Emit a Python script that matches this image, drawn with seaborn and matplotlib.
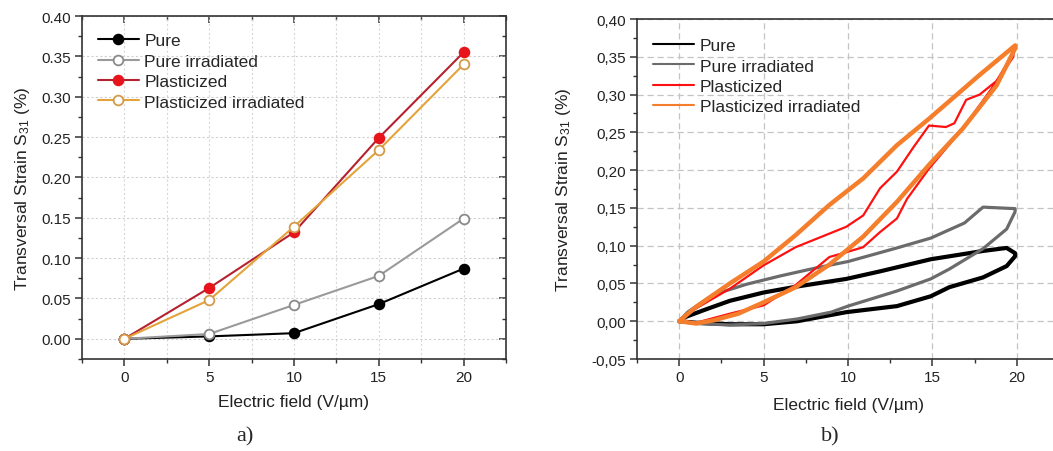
import matplotlib
matplotlib.use("Agg")
import matplotlib.pyplot as plt
from matplotlib.ticker import MultipleLocator, FixedLocator, FixedFormatter
import seaborn as sns
import pandas as pd

# ---------------- Data ----------------
# Panel a) strain vs electric field
field_a = [0, 5, 10, 15, 20]
pure = [0.0, 0.003, 0.007, 0.043, 0.087]
pure_irr = [0.0, 0.006, 0.042, 0.078, 0.149]
plast = [0.0, 0.063, 0.132, 0.249, 0.355]
plast_irr = [0.0, 0.048, 0.139, 0.234, 0.340]
series_names = ["Pure", "Pure irradiated", "Plasticized", "Plasticized irradiated"]

# Panel b) hysteresis loops (lower branch: rising field, upper branch: falling field)
pure_lo_E = [0, 1, 3, 5, 7, 9.9, 12.9, 14.9, 16, 18, 19.4, 19.9]
pure_lo_S = [0, -0.002, -0.004, -0.004, 0.0, 0.012, 0.020, 0.033, 0.045, 0.058, 0.073, 0.086]
pure_up_E = [19.9, 19.4, 18, 14.9, 11.9, 9.9, 7, 5, 3, 1.5, 0.3, 0]
pure_up_S = [0.090, 0.097, 0.093, 0.082, 0.066, 0.056, 0.046, 0.038, 0.027, 0.015, 0.005, 0]

pirr_lo_E = [0, 1, 3, 5, 7, 9, 10, 12.9, 14.9, 16, 18, 19.4, 19.9]
pirr_lo_S = [0, -0.003, -0.005, -0.003, 0.003, 0.012, 0.020, 0.040, 0.056, 0.069, 0.096, 0.122, 0.145]
pirr_up_E = [19.9, 18, 16.9, 14.9, 12.9, 10, 8, 6, 4, 2, 0.5, 0]
pirr_up_S = [0.149, 0.151, 0.130, 0.110, 0.097, 0.079, 0.070, 0.060, 0.049, 0.035, 0.012, 0]

plast_lo_E = [0, 1, 2, 3, 5, 6.9, 8.9, 10, 10.9, 11.9, 12.9, 13.5, 14.8, 16.8, 18.8, 19.8]
plast_lo_S = [0, -0.002, 0.004, 0.010, 0.021, 0.048, 0.085, 0.092, 0.098, 0.118, 0.136, 0.162, 0.202, 0.255, 0.317, 0.350]
plast_up_E = [19.8, 18.8, 17.8, 17, 16.3, 15.8, 14.8, 13.9, 12.9, 11.9, 10.9, 9.9, 8.9, 6.9, 5, 3, 1, 0]
plast_up_S = [0.355, 0.318, 0.300, 0.293, 0.262, 0.257, 0.259, 0.231, 0.198, 0.176, 0.140, 0.125, 0.116, 0.098, 0.074, 0.043, 0.017, 0]

pli_lo_E = [0, 1, 2, 3.5, 5, 6.9, 8.9, 10.9, 12.9, 14.8, 16.8, 18.8, 19.9]
pli_lo_S = [0, -0.003, 0.001, 0.010, 0.025, 0.045, 0.075, 0.112, 0.158, 0.207, 0.255, 0.312, 0.361]
pli_up_E = [19.9, 17.8, 14.8, 12.9, 10.9, 8.9, 6.9, 5, 3, 1, 0]
pli_up_S = [0.365, 0.326, 0.268, 0.233, 0.189, 0.154, 0.114, 0.079, 0.050, 0.019, 0]

yticks_b = [-0.05, 0.0, 0.05, 0.10, 0.15, 0.20, 0.25, 0.30, 0.35, 0.40]
yticklabels_b = ["-0,05", "0,00", "0,05", "0,10", "0,15", "0,20", "0,25", "0,30", "0,35", "0,40"]

# ---------------- Style ----------------
sns.set_style("ticks")
plt.rcParams["font.family"] = ["Liberation Sans", "DejaVu Sans"]
plt.rcParams["mathtext.default"] = "regular"

fig = plt.figure(figsize=(10.53, 4.52), dpi=100)
axA = fig.add_axes([82/1053, 1-360/452, (506-82)/1053, (360-17)/452])
axB = fig.add_axes([637/1053, 1-360/452, (1059-637)/1053, (360-20)/452])

spine_col = "#333333"
tick_fs = 11
label_fs = 12.5
leg_fs = 12.5

# ---------------- Panel a ----------------
styles_a = [
    dict(color="black", mfc="black", mec="black"),
    dict(color="#9a9a9a", mfc="white", mec="#8a8a8a"),
    dict(color="#b5212e", mfc="#e8141c", mec="#e8141c"),
    dict(color="#e3a33a", mfc="white", mec="#d39a4a"),
]
for name, vals, st in zip(series_names, [pure, pure_irr, plast, plast_irr], styles_a):
    sns.lineplot(x=field_a, y=vals, ax=axA, color=st["color"], lw=1.5, marker="o",
                 markersize=7, markerfacecolor=st["mfc"], markeredgecolor=st["mec"],
                 markeredgewidth=1.3, label=name)

axA.set_xlim(-2.5, 22.5)
axA.set_ylim(-0.025, 0.40)
axA.xaxis.set_major_locator(MultipleLocator(5))
axA.xaxis.set_minor_locator(MultipleLocator(2.5))
axA.yaxis.set_major_locator(MultipleLocator(0.05))
axA.yaxis.set_minor_locator(MultipleLocator(0.025))
axA.yaxis.set_major_formatter(matplotlib.ticker.FormatStrFormatter("%.2f"))
axA.grid(True, which="major", axis="y", color="#d0d0d0", ls=(0, (2, 2)), lw=0.8)
axA.grid(True, which="both", axis="x", color="#d8d8d8", ls=(0, (2, 2)), lw=0.8)
for s in axA.spines.values():
    s.set_visible(True)
    s.set_color(spine_col)
    s.set_linewidth(1.2)
axA.tick_params(which="major", direction="out", length=5, width=1.1, color=spine_col,
                labelsize=tick_fs, labelcolor="#222222", pad=3)
axA.tick_params(which="minor", direction="out", length=3, width=1.0, color=spine_col)
secx = axA.secondary_xaxis("top")
secx.xaxis.set_major_locator(MultipleLocator(5))
secx.xaxis.set_minor_locator(MultipleLocator(2.5))
secx.tick_params(which="major", direction="in", length=5, width=1.1, color=spine_col, labeltop=False)
secx.tick_params(which="minor", direction="in", length=3, width=1.0, color=spine_col)
secx.spines["top"].set_visible(False)
secy = axA.secondary_yaxis("right")
secy.yaxis.set_major_locator(MultipleLocator(0.05))
secy.yaxis.set_minor_locator(MultipleLocator(0.025))
secy.tick_params(which="major", direction="in", length=5, width=1.1, color=spine_col, labelright=False)
secy.tick_params(which="minor", direction="in", length=3, width=1.0, color=spine_col)
secy.spines["right"].set_visible(False)

axA.set_xlabel("Electric field (V/µm)", fontsize=label_fs, color="#222222", labelpad=7)
axA.set_ylabel("Transversal Strain S$_{31}$ (%)", fontsize=label_fs, color="#222222", labelpad=7)
legA = axA.legend(loc="upper left", bbox_to_anchor=(0.0, 0.995), frameon=False, fontsize=leg_fs,
                  handlelength=2.4, handletextpad=0.3, labelspacing=0.3, borderaxespad=0.5)

# ---------------- Panel b ----------------
colors_b = ["black", "#6b6b6b", "#ff1010", "#f47e2c"]
lws_b = [3.0, 2.3, 1.6, 3.2]
loops = [
    (pure_lo_E + pure_up_E, pure_lo_S + pure_up_S),
    (pirr_lo_E + pirr_up_E, pirr_lo_S + pirr_up_S),
    (plast_lo_E + plast_up_E, plast_lo_S + plast_up_S),
    (pli_lo_E + pli_up_E, pli_lo_S + pli_up_S),
]
for name, (E, S), c, lw in zip(series_names, loops, colors_b, lws_b):
    df = pd.DataFrame({"E": E, "S": S})
    sns.lineplot(data=df, x="E", y="S", ax=axB, sort=False, estimator=None,
                 color=c, lw=lw, label=name)

axB.set_xlim(-2.5, 22.5)
axB.set_ylim(-0.05, 0.40)
axB.xaxis.set_major_locator(MultipleLocator(5))
axB.xaxis.set_minor_locator(MultipleLocator(2.5))
axB.yaxis.set_major_locator(FixedLocator(yticks_b))
axB.yaxis.set_major_formatter(FixedFormatter(yticklabels_b))
axB.yaxis.set_minor_locator(MultipleLocator(0.025))
axB.grid(True, which="major", color="#c4c4c4", ls=(0, (5, 3)), lw=0.9)
axB.set_axisbelow(True)
for side in ["left", "bottom", "top"]:
    axB.spines[side].set_visible(True)
    axB.spines[side].set_color(spine_col)
    axB.spines[side].set_linewidth(1.2)
axB.spines["right"].set_visible(False)
axB.tick_params(which="major", direction="out", length=5, width=1.1, color=spine_col,
                labelsize=tick_fs, labelcolor="#222222", pad=3)
axB.tick_params(which="minor", direction="out", length=3, width=1.0, color=spine_col)
axB.set_xlabel("Electric field (V/µm)", fontsize=label_fs, color="#222222", labelpad=9)
axB.set_ylabel("Transversal Strain S$_{31}$ (%)", fontsize=label_fs, color="#222222", labelpad=13)
legB = axB.legend(loc="upper left", bbox_to_anchor=(0.0, 0.99), frameon=False, fontsize=leg_fs,
                  handlelength=2.4, handletextpad=0.3, labelspacing=0.3, borderaxespad=0.5)
for ln in legB.get_lines():
    ln.set_linewidth(1.5)

# ---------------- panel tags ----------------
fig.text(245/1053, 1-437/452, "a)", ha="center", va="center", fontsize=16,
         family=["Liberation Serif", "DejaVu Serif"])
fig.text(830/1053, 1-437/452, "b)", ha="center", va="center", fontsize=16,
         family=["Liberation Serif", "DejaVu Serif"])

fig.savefig("out.png", dpi=100)
